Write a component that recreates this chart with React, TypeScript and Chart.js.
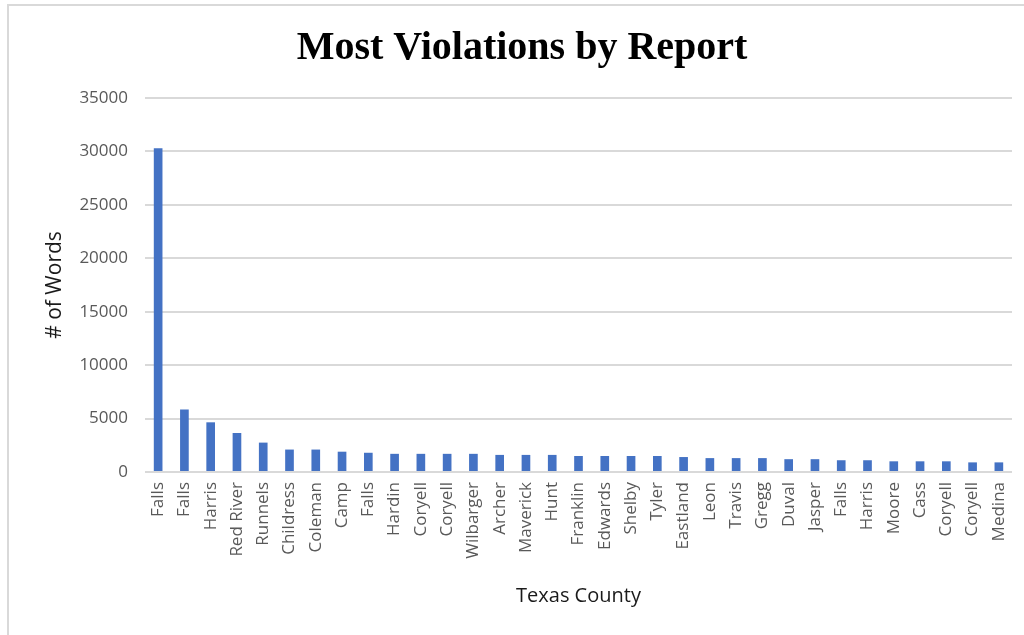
import React, { useEffect, useRef } from "react";
import { Chart, registerables } from "chart.js";

Chart.register(...registerables);

const counties: string[] = [
  "Falls", "Falls", "Harris", "Red River", "Runnels", "Childress", "Coleman", "Camp",
  "Falls", "Hardin", "Coryell", "Coryell", "Wilbarger", "Archer", "Maverick", "Hunt",
  "Franklin", "Edwards", "Shelby", "Tyler", "Eastland", "Leon", "Travis", "Gregg",
  "Duval", "Jasper", "Falls", "Harris", "Moore", "Cass", "Coryell", "Coryell", "Medina",
];

const wordCounts: number[] = [
  30300, 5850, 4650, 3650, 2750, 2100, 2100, 1900,
  1800, 1700, 1700, 1700, 1700, 1600, 1600, 1600,
  1500, 1500, 1500, 1500, 1400, 1300, 1300, 1300,
  1200, 1200, 1100, 1100, 1000, 1000, 1000, 900, 900,
];

const yTicks: number[] = [0, 5000, 10000, 15000, 20000, 25000, 30000, 35000];

const chartTitle = "Most Violations by Report";
const xTitle = "Texas County";
const yTitle = "# of Words";

export default function App() {
  const ref = useRef<HTMLCanvasElement | null>(null);

  useEffect(() => {
    if (!ref.current) return;
    const chart = new Chart(ref.current, {
      type: "bar",
      data: {
        labels: counties,
        datasets: [
          {
            data: wordCounts,
            backgroundColor: "#4472C4",
            borderWidth: 0,
            categoryPercentage: 1,
            barPercentage: 0.33,
          },
        ],
      },
      options: {
        responsive: false,
        animation: false,
        layout: { padding: { top: 0, right: 12, bottom: 0, left: 32 } },
        plugins: {
          legend: { display: false },
          tooltip: { enabled: false },
          title: {
            display: true,
            text: chartTitle,
            color: "#000000",
            font: { family: "'Liberation Serif', 'Times New Roman', serif", size: 40, weight: "bold", lineHeight: 1.2 },
            padding: { top: 25, bottom: 25 },
          },
        },
        scales: {
          x: {
            offset: true,
            grid: { display: false },
            border: { display: false },
            ticks: {
              color: "#595959",
              font: { family: "'Open Sans', sans-serif", size: 17 },
              minRotation: 90,
              maxRotation: 90,
              autoSkip: false,
              padding: 2,
            },
            title: {
              display: true,
              text: xTitle,
              color: "#1a1a1a",
              font: { family: "'Open Sans', sans-serif", size: 20, lineHeight: 1.2 },
              padding: { top: 0, bottom: 27 },
            },
            afterFit: (axis: any) => {
              axis.height = 163;
            },
          },
          y: {
            min: 0,
            max: 35000,
            afterBuildTicks: (axis: any) => {
              axis.ticks = yTicks.map((v) => ({ value: v }));
            },
            grid: { color: "#d9d9d9", lineWidth: 2, drawTicks: false },
            border: { display: false },
            ticks: {
              color: "#595959",
              font: { family: "'Open Sans', sans-serif", size: 17 },
              padding: 17,
              callback: (v: any) => String(v),
            },
            title: {
              display: true,
              text: yTitle,
              color: "#1a1a1a",
              font: { family: "'Open Sans', sans-serif", size: 21, lineHeight: 1.2 },
              padding: { top: 10, bottom: 0 },
            },
            afterFit: (axis: any) => {
              axis.width = 113;
            },
          },
        },
      },
    });
    return () => chart.destroy();
  }, []);

  return (
    <div style={{ position: "absolute", left: 0, top: 0, width: 1024, height: 635, background: "#ffffff", overflow: "hidden" }}>
      <div
        style={{
          position: "absolute",
          left: 7,
          top: 4,
          right: 0,
          bottom: 0,
          borderTop: "2px solid #d9d9d9",
          borderLeft: "2px solid #d9d9d9",
        }}
      />
      <canvas ref={ref} width={1024} height={635} style={{ position: "absolute", left: 0, top: 0 }} />
    </div>
  );
}
